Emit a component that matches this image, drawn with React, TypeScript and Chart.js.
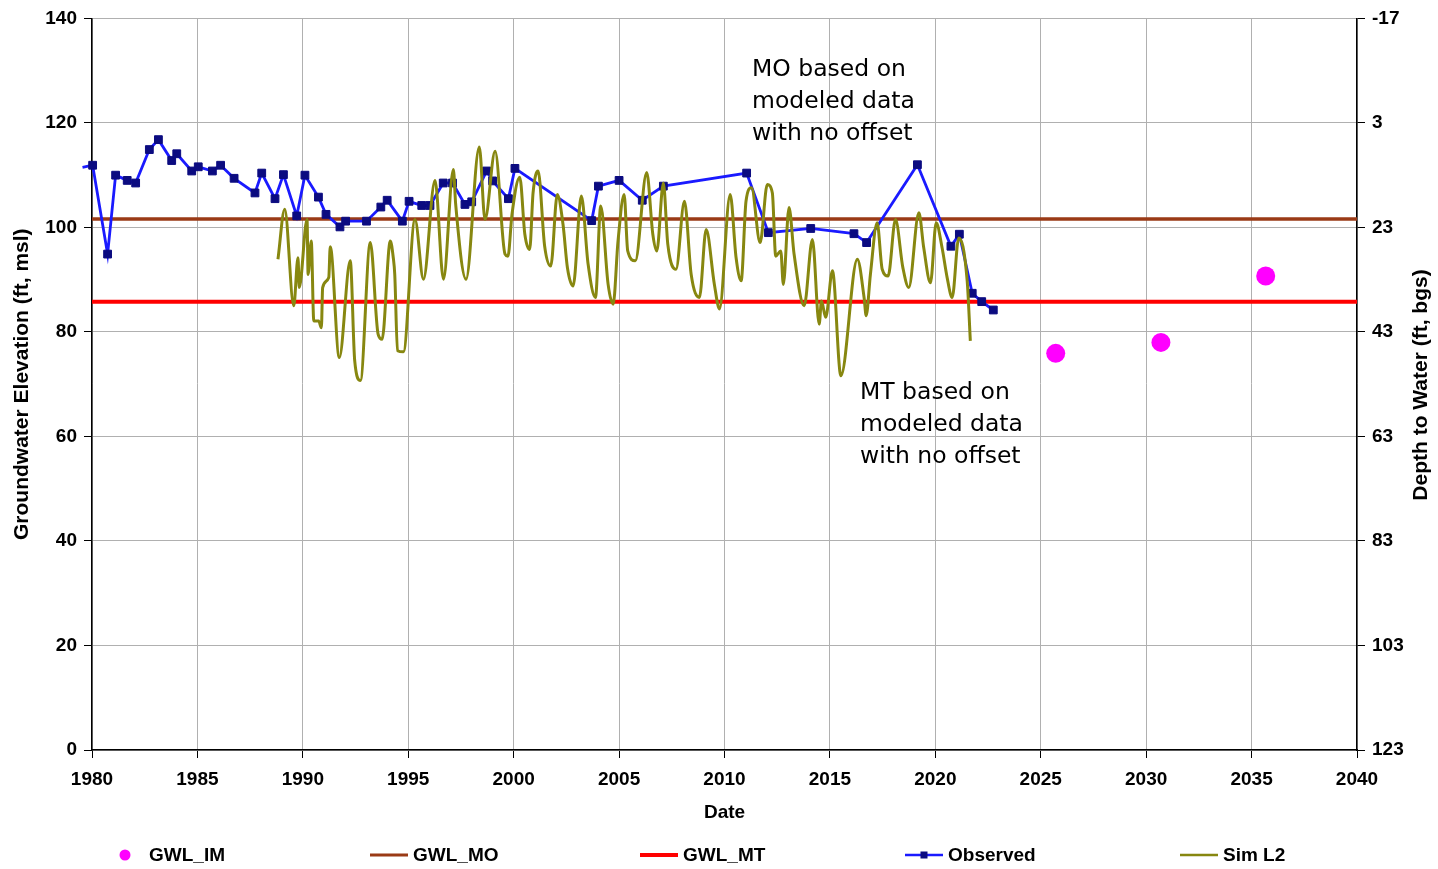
import React, { useEffect, useRef } from "react";
import { Chart, registerables } from "chart.js";

Chart.register(...registerables);

// ---- Axis ticks ----
const xTicks = [1980, 1985, 1990, 1995, 2000, 2005, 2010, 2015, 2020, 2025, 2030, 2035, 2040];
const leftTicks = [0, 20, 40, 60, 80, 100, 120, 140];
const rightTicks = [-17, 3, 23, 43, 63, 83, 103, 123];

// ---- Series ----
const imYears = [2025.71, 2030.7, 2035.67];
const imValues = [75.9, 78.0, 90.7];

const moLevel = 101.6;
const mtLevel = 85.8;
const levelYears = [1980, 2040];

const obsYears = [
  1979.55, 1980.03, 1980.74, 1981.12, 1981.67, 1982.07, 1982.72, 1983.15, 1983.78, 1984.02,
  1984.73, 1985.04, 1985.71, 1986.1, 1986.74, 1987.73, 1988.05, 1988.68, 1989.08, 1989.71,
  1990.1, 1990.74, 1991.1, 1991.76, 1992.03, 1993.02, 1993.7, 1994.0, 1994.72, 1995.04,
  1995.64, 1996.03, 1996.66, 1997.1, 1997.69, 1998.01, 1998.72, 1999.0, 1999.75, 2000.06,
  2003.7, 2004.02, 2005.0, 2006.1, 2007.1, 2011.05, 2012.08, 2014.09, 2016.14, 2016.74,
  2019.15, 2020.74, 2021.14, 2021.75, 2022.2, 2022.75,
];
const obsValues = [
  111.5, 111.9, 94.9, 110.0, 109.0, 108.5, 114.9, 116.8, 112.8, 114.1,
  110.8, 111.6, 110.8, 111.9, 109.4, 106.6, 110.4, 105.5, 110.1, 102.2,
  110.0, 105.8, 102.5, 100.1, 101.2, 101.2, 103.9, 105.2, 101.2, 105.0,
  104.2, 104.2, 108.5, 108.5, 104.4, 104.9, 110.8, 108.9, 105.5, 111.3,
  101.3, 107.9, 109.0, 105.2, 107.9, 110.4, 99.0, 99.8, 98.8, 97.1,
  112.0, 96.4, 98.7, 87.4, 85.8, 84.2,
];

const simYears = [
  1988.82, 1989.14, 1989.57, 1989.77, 1989.83, 1990.2, 1990.25, 1990.4, 1990.52, 1990.75,
  1990.88, 1990.94, 1991.23, 1991.3, 1991.73, 1992.25, 1992.46, 1992.73, 1993.2, 1993.57,
  1993.76, 1994.15, 1994.29, 1994.36, 1994.49, 1994.77, 1995.32, 1995.72, 1996.27, 1996.67,
  1997.14, 1997.25, 1997.74, 1998.37, 1998.64, 1999.12, 1999.59, 1999.73, 1999.92, 2000.29,
  2000.53, 2000.76, 2000.92, 2001.16, 2001.47, 2001.76, 2002.07, 2002.34, 2002.55, 2002.82,
  2003.21, 2003.53, 2003.88, 2004.13, 2004.48, 2004.72, 2004.95, 2005.24, 2005.41, 2005.77,
  2006.31, 2006.6, 2006.79, 2007.1, 2007.31, 2007.7, 2008.1, 2008.42, 2008.81, 2009.13,
  2009.52, 2009.76, 2010.27, 2010.55, 2010.79, 2011.02, 2011.28, 2011.69, 2012.03, 2012.27,
  2012.43, 2012.67, 2012.79, 2013.06, 2013.3, 2013.78, 2014.17, 2014.49, 2014.6, 2014.8,
  2015.12, 2015.52, 2016.3, 2016.62, 2016.72, 2016.92, 2017.24, 2017.48, 2017.76, 2018.11,
  2018.46, 2018.74, 2019.22, 2019.45, 2019.77, 2020.04, 2020.32, 2020.56, 2020.8, 2021.11,
  2021.51, 2021.66,
];
const simValues = [
  93.9, 103.5, 85.0, 94.2, 88.5, 101.5, 91.0, 97.4, 82.1, 82.1,
  80.8, 88.5, 90.4, 96.3, 75.1, 93.6, 74.5, 70.7, 97.1, 79.6,
  78.6, 97.4, 94.2, 91.0, 76.4, 76.2, 101.5, 90.1, 109.0, 90.1,
  111.1, 104.4, 90.1, 115.4, 101.5, 114.6, 94.9, 94.5, 102.5, 109.6,
  98.7, 95.8, 106.6, 110.8, 96.4, 92.6, 106.3, 100.6, 92.3, 88.8,
  106.0, 93.0, 86.6, 104.1, 89.1, 85.3, 97.4, 106.3, 95.5, 93.6,
  110.5, 98.7, 95.5, 108.5, 96.8, 92.0, 105.0, 91.0, 86.6, 99.6,
  89.1, 84.4, 106.3, 94.2, 89.8, 105.0, 107.6, 97.1, 108.2, 106.6,
  94.5, 95.5, 89.1, 103.8, 94.9, 85.0, 97.7, 81.5, 85.9, 82.8,
  91.7, 71.6, 93.9, 86.6, 83.1, 91.0, 100.9, 92.0, 90.7, 101.5,
  92.3, 88.5, 102.8, 96.1, 89.4, 100.9, 96.1, 90.4, 86.6, 98.0,
  89.8, 78.3,
];

// ---- Text ----
const seriesLabels = ["GWL_IM", "GWL_MO", "GWL_MT", "Observed", "Sim L2"];
const xTitle = "Date";
const leftTitle = "Groundwater Elevation (ft, msl)";
const rightTitle = "Depth to Water (ft, bgs)";
const moNote = ["MO based on", "modeled data", "with no offset"];
const mtNote = ["MT based on", "modeled data", "with no offset"];

// ---- Styles ----
const C_IM = "#ff00ff";
const C_MO = "#9a3a16";
const C_MT = "#ff0000";
const C_OBS_LINE = "#1a1aff";
const C_OBS_PT = "#0b0b80";
const C_SIM = "#878710";
const GRID = "#b0b0b0";
const BOLD = 'bold 19px "Liberation Sans", Arial, sans-serif';
const BOLD_TITLE = 'bold 21px "Liberation Sans", Arial, sans-serif';

const toXY = (xs: number[], ys: number[]) => xs.map((x, i) => ({ x, y: ys[i] }));

const overlayPlugin = {
  id: "overlay",
  afterDraw(chart: any) {
    const ctx = chart.ctx as CanvasRenderingContext2D;
    ctx.save();
    // annotations
    ctx.fillStyle = "#000";
    ctx.font = '23.5px "DejaVu Sans", Verdana, sans-serif';
    ctx.textAlign = "left";
    ctx.textBaseline = "middle";
    moNote.forEach((t, i) => ctx.fillText(t, 752, 70 + i * 32));
    mtNote.forEach((t, i) => ctx.fillText(t, 860, 393 + i * 32));

    // right axis title (reads bottom-to-top)
    ctx.save();
    ctx.translate(1421, 385);
    ctx.rotate(-Math.PI / 2);
    ctx.font = BOLD_TITLE;
    ctx.textAlign = "center";
    ctx.textBaseline = "middle";
    ctx.fillText(rightTitle, 0, 0);
    ctx.restore();

    // legend
    const ly = 855;
    const starts = [106, 370, 640, 905, 1180];
    ctx.font = BOLD;
    ctx.textBaseline = "middle";
    ctx.textAlign = "left";
    seriesLabels.forEach((label, i) => {
      const x0 = starts[i];
      const x1 = x0 + 38;
      ctx.save();
      if (i === 0) {
        ctx.fillStyle = C_IM;
        ctx.beginPath();
        ctx.arc(x0 + 19, ly, 5.5, 0, Math.PI * 2);
        ctx.fill();
      } else {
        const color = i === 1 ? C_MO : i === 2 ? C_MT : i === 3 ? C_OBS_LINE : C_SIM;
        const w = i === 1 ? 3 : i === 2 ? 4 : i === 3 ? 2.5 : 2.5;
        ctx.strokeStyle = color;
        ctx.lineWidth = w;
        ctx.beginPath();
        ctx.moveTo(x0, ly);
        ctx.lineTo(x1, ly);
        ctx.stroke();
        if (i === 3) {
          ctx.fillStyle = C_OBS_PT;
          ctx.fillRect(x0 + 19 - 3.5, ly - 3.5, 7, 7);
        }
      }
      ctx.restore();
      ctx.fillStyle = "#000";
      ctx.fillText(label, x1 + 5, ly + 1);
    });
    ctx.restore();
  },
};

export default function App() {
  const ref = useRef<HTMLCanvasElement | null>(null);

  useEffect(() => {
    if (!ref.current) return;
    const tickFont = { family: '"Liberation Sans", Arial, sans-serif', size: 19, weight: "bold" as const };
    const titleFont = { family: '"Liberation Sans", Arial, sans-serif', size: 21, weight: "bold" as const };
    const chart = new Chart(ref.current, {
      type: "scatter",
      data: {
        datasets: [
          {
            label: seriesLabels[0],
            data: toXY(imYears, imValues),
            showLine: false,
            pointRadius: 9.5,
            pointBackgroundColor: C_IM,
            pointBorderColor: C_IM,
            pointBorderWidth: 0,
            order: 0,
          },
          {
            label: seriesLabels[4],
            data: toXY(simYears, simValues),
            showLine: true,
            borderColor: C_SIM,
            borderWidth: 3,
            pointRadius: 0,
            cubicInterpolationMode: "monotone",
            order: 1,
          },
          {
            label: seriesLabels[3],
            data: toXY(obsYears, obsValues),
            showLine: true,
            borderColor: C_OBS_LINE,
            borderWidth: 2.8,
            pointStyle: "rect",
            pointRadius: (c: any) => (obsYears[c.dataIndex] < 1980 ? 0 : 5.5),
            pointBackgroundColor: C_OBS_PT,
            pointBorderColor: C_OBS_PT,
            pointBorderWidth: 1,
            tension: 0,
            clip: false as any,
            order: 2,
          },
          {
            label: seriesLabels[2],
            data: levelYears.map((x) => ({ x, y: mtLevel })),
            showLine: true,
            borderColor: C_MT,
            borderWidth: 4,
            pointRadius: 0,
            order: 3,
          },
          {
            label: seriesLabels[1],
            data: levelYears.map((x) => ({ x, y: moLevel })),
            showLine: true,
            borderColor: C_MO,
            borderWidth: 3.5,
            pointRadius: 0,
            order: 4,
          },
        ],
      },
      options: {
        animation: false,
        responsive: true,
        maintainAspectRatio: false,
        layout: { padding: { top: 17, left: 0, right: 0, bottom: 0 } },
        plugins: {
          legend: { display: false },
          tooltip: { enabled: false },
        },
        scales: {
          x: {
            type: "linear",
            position: "bottom",
            min: 1980,
            max: 2040,
            afterBuildTicks: (s: any) => {
              s.ticks = xTicks.map((v) => ({ value: v }));
            },
            afterFit: (s: any) => {
              s.height = 119;
            },
            ticks: {
              color: "#000",
              font: tickFont,
              padding: 10,
              maxRotation: 0,
              callback: (v: any) => String(v),
            },
            grid: { color: GRID, lineWidth: 1, tickLength: 8, tickColor: "#000" },
            border: { color: "#000", width: 1.5 },
            title: {
              display: true,
              text: xTitle,
              color: "#000",
              font: tickFont,
              padding: { top: 0, bottom: 45 },
            },
          },
          y: {
            type: "linear",
            position: "left",
            min: 0,
            max: 140,
            afterBuildTicks: (s: any) => {
              s.ticks = leftTicks.map((v) => ({ value: v }));
            },
            afterFit: (s: any) => {
              s.width = 92;
            },
            ticks: { color: "#000", font: tickFont, padding: 7 },
            grid: { color: GRID, lineWidth: 1, tickLength: 8, tickColor: "#000" },
            border: { color: "#000", width: 1.5 },
            title: {
              display: true,
              text: leftTitle,
              color: "#000",
              font: titleFont,
              padding: { top: 10, bottom: 0 },
            },
          },
          y2: {
            type: "linear",
            position: "right",
            min: -17,
            max: 123,
            reverse: true,
            afterBuildTicks: (s: any) => {
              s.ticks = rightTicks.map((v) => ({ value: v }));
            },
            afterFit: (s: any) => {
              s.width = 81;
            },
            ticks: { color: "#000", font: tickFont, padding: 7 },
            grid: { drawOnChartArea: false, tickLength: 8, tickColor: "#000" },
            border: { color: "#000", width: 1.5 },
          },
        },
      },
      plugins: [overlayPlugin],
    } as any);
    return () => chart.destroy();
  }, []);

  return (
    <div
      style={{
        position: "fixed",
        left: 0,
        top: 0,
        width: 1438,
        height: 869,
        background: "#fff",
      }}
    >
      <canvas ref={ref} />
    </div>
  );
}
